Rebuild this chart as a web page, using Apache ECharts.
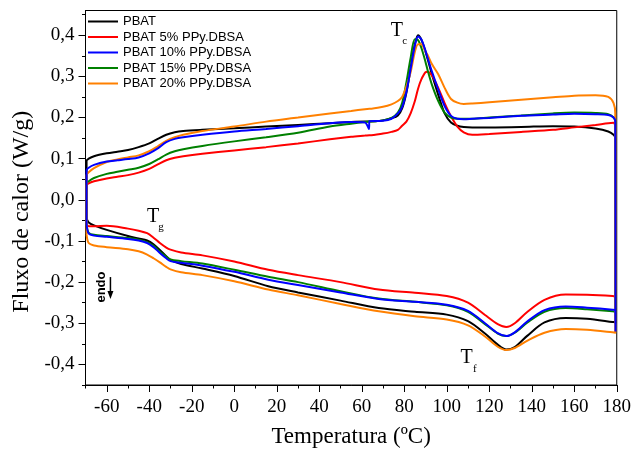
<!DOCTYPE html>
<html>
<head>
<meta charset="utf-8">
<script src="https://cdn.jsdelivr.net/npm/echarts@6/dist/echarts.min.js"></script>
<style>
html, body { margin: 0; padding: 0; background: #fff; }
#chart { width: 634px; height: 452px; }
</style>
</head>
<body>
<div id="chart"></div>
<script>
// DSC thermograms of PBAT and PBAT/PPy.DBSA blends (heat flow, W/g, vs temperature, °C)
const seriesNames = ['PBAT', 'PBAT 5% PPy.DBSA', 'PBAT 10% PPy.DBSA', 'PBAT 15% PPy.DBSA', 'PBAT 20% PPy.DBSA'];
const seriesColors = ['#000000', '#ff0000', '#0000ff', '#008000', '#ff8000'];

// heating run (lower branch, endo down)
const heatT = [-69.5, -68.5, -66, -60, -50, -45, -41, -38, -35, -32, -30, -25, -15, 0, 16, 30, 50, 68, 85, 100, 110, 118, 124, 128, 132, 138, 146, 156, 166, 178, 179.3, 179.4];
const heatPBAT   = [-0.045, -0.055, -0.062, -0.073, -0.088, -0.094, -0.099, -0.108, -0.122, -0.137, -0.146, -0.156, -0.167, -0.185, -0.210, -0.225, -0.245, -0.263, -0.272, -0.279, -0.295, -0.325, -0.352, -0.364, -0.358, -0.330, -0.298, -0.287, -0.289, -0.297, -0.298, -0.300];
const heatPPy5   = [-0.060, -0.064, -0.064, -0.063, -0.070, -0.075, -0.081, -0.092, -0.105, -0.116, -0.121, -0.128, -0.135, -0.150, -0.170, -0.183, -0.200, -0.218, -0.226, -0.234, -0.250, -0.280, -0.302, -0.309, -0.300, -0.272, -0.243, -0.230, -0.231, -0.234, -0.235, -0.236];
const heatPPy10  = [-0.060, -0.082, -0.087, -0.090, -0.095, -0.099, -0.105, -0.115, -0.129, -0.142, -0.149, -0.153, -0.160, -0.175, -0.194, -0.207, -0.225, -0.241, -0.248, -0.255, -0.270, -0.300, -0.324, -0.331, -0.322, -0.295, -0.268, -0.259, -0.262, -0.267, -0.268, -0.320];
const heatPPy15  = [-0.060, -0.080, -0.085, -0.088, -0.093, -0.097, -0.103, -0.112, -0.126, -0.138, -0.145, -0.149, -0.155, -0.170, -0.187, -0.200, -0.222, -0.240, -0.248, -0.256, -0.272, -0.302, -0.325, -0.331, -0.323, -0.298, -0.272, -0.263, -0.266, -0.271, -0.272, -0.273];
const heatPPy20  = [-0.085, -0.105, -0.111, -0.115, -0.120, -0.125, -0.133, -0.142, -0.152, -0.163, -0.169, -0.176, -0.183, -0.198, -0.218, -0.232, -0.253, -0.271, -0.283, -0.291, -0.305, -0.332, -0.357, -0.365, -0.360, -0.342, -0.323, -0.314, -0.316, -0.322, -0.323, -0.324];

// cooling run (upper branch, crystallization exotherm)
const coolT = [-69.5, -68.5, -66, -60, -55, -50, -45, -40, -36, -32, -28, -24, -15, 0, 15, 30, 45, 55, 61.5, 63.4, 63.6, 70, 74, 77, 79, 81, 83, 85, 86.5, 88, 90, 91, 93, 96, 99, 102, 105, 108, 112, 120, 135, 150, 160, 170, 176, 178.5, 179.3];
const coolPBAT  = [0.095, 0.100, 0.106, 0.113, 0.117, 0.121, 0.128, 0.137, 0.148, 0.158, 0.164, 0.167, 0.170, 0.174, 0.178, 0.182, 0.186, 0.189, 0.190, 0.190, 0.190, 0.193, 0.198, 0.205, 0.222, 0.260, 0.320, 0.378, 0.400, 0.390, 0.360, 0.342, 0.305, 0.255, 0.210, 0.188, 0.180, 0.177, 0.176, 0.176, 0.177, 0.179, 0.178, 0.173, 0.166, 0.158, 0.150];
const coolPPy5  = [0.035, 0.040, 0.045, 0.052, 0.056, 0.060, 0.066, 0.075, 0.086, 0.096, 0.102, 0.106, 0.112, 0.120, 0.128, 0.137, 0.147, 0.153, 0.156, 0.157, 0.157, 0.161, 0.165, 0.170, 0.180, 0.190, 0.210, 0.240, 0.270, 0.292, 0.310, 0.311, 0.302, 0.272, 0.235, 0.203, 0.178, 0.164, 0.158, 0.160, 0.165, 0.170, 0.176, 0.182, 0.186, 0.187, 0.180];
const coolPPy10 = [0.072, 0.078, 0.085, 0.093, 0.096, 0.099, 0.103, 0.113, 0.125, 0.140, 0.148, 0.152, 0.158, 0.166, 0.172, 0.179, 0.186, 0.189, 0.188, 0.172, 0.191, 0.192, 0.197, 0.210, 0.225, 0.262, 0.318, 0.375, 0.397, 0.390, 0.362, 0.345, 0.312, 0.268, 0.228, 0.204, 0.197, 0.196, 0.197, 0.199, 0.204, 0.207, 0.209, 0.208, 0.206, 0.200, 0.190];
const coolPPy15 = [0.040, 0.045, 0.053, 0.063, 0.068, 0.073, 0.078, 0.087, 0.098, 0.110, 0.118, 0.123, 0.131, 0.142, 0.152, 0.163, 0.178, 0.185, 0.189, 0.190, 0.190, 0.193, 0.199, 0.212, 0.235, 0.285, 0.345, 0.390, 0.388, 0.370, 0.335, 0.315, 0.280, 0.240, 0.212, 0.200, 0.197, 0.197, 0.197, 0.200, 0.205, 0.210, 0.212, 0.211, 0.208, 0.200, 0.190];
const coolPPy20 = [0.060, 0.067, 0.077, 0.092, 0.098, 0.103, 0.108, 0.118, 0.130, 0.143, 0.152, 0.158, 0.167, 0.178, 0.190, 0.200, 0.210, 0.216, 0.220, 0.221, 0.221, 0.226, 0.232, 0.240, 0.250, 0.275, 0.310, 0.360, 0.378, 0.378, 0.360, 0.352, 0.330, 0.305, 0.272, 0.245, 0.236, 0.233, 0.234, 0.237, 0.243, 0.249, 0.253, 0.254, 0.250, 0.235, 0.210];

// axis ticks
const xLabelTicks = [-60, -40, -20, 0, 20, 40, 60, 80, 100, 120, 140, 160, 180];
const xMinorTicks = [-70, -50, -30, -10, 10, 30, 50, 70, 90, 110, 130, 150, 170];
const yLabelTicks = [-0.4, -0.3, -0.2, -0.1, 0, 0.1, 0.2, 0.3, 0.4];
const yMinorTicks = [-0.45, -0.35, -0.25, -0.15, -0.05, 0.05, 0.15, 0.25, 0.35, 0.45];

const heatRuns = [heatPBAT, heatPPy5, heatPPy10, heatPPy15, heatPPy20];
const coolRuns = [coolPBAT, coolPPy5, coolPPy10, coolPPy15, coolPPy20];

// one closed loop per sample: heating left→right, then cooling right→left
function loopData(heat, cool) {
  const h = heatT.map((t, i) => [t, heat[i]]);
  const c = coolT.map((t, i) => [t, cool[i]]).reverse();
  return h.concat(c, [h[0]]);
}

const serif = 'Liberation Serif';
const sans = 'Liberation Sans';

const seriesList = seriesNames.map((name, i) => ({
  name: name,
  type: 'line',
  data: loopData(heatRuns[i], coolRuns[i]),
  showSymbol: false,
  symbol: 'none',
  smooth: 0.3,
  lineStyle: { color: seriesColors[i], width: 2 },
  itemStyle: { color: seriesColors[i] },
  emphasis: { disabled: true },
  silent: true,
  z: [2, 3, 6, 4, 5][i]
}));

const chart = echarts.init(document.getElementById('chart'), null, { renderer: 'canvas' });

const commonX = { type: 'value', min: -70, max: 180, gridIndex: 0, position: 'bottom' };
const commonY = { type: 'value', min: -0.45, max: 0.46, gridIndex: 0, position: 'left' };

chart.setOption({
  animation: false,
  backgroundColor: '#ffffff',
  grid: {
    left: 85.5, right: 16.5, top: 10.5, bottom: 67,
    show: true, borderColor: '#000', borderWidth: 1, backgroundColor: 'transparent'
  },
  legend: {
    orient: 'vertical',
    left: 88, top: 15, padding: 0,
    itemWidth: 30, itemHeight: 2, itemGap: 2.5,
    icon: 'rect',
    data: seriesNames,
    textStyle: { fontFamily: sans, fontSize: 13, color: '#000', lineHeight: 13 },
    selectedMode: false
  },
  xAxis: [
    Object.assign({}, commonX, {
      axisLine: { show: true, onZero: false, lineStyle: { color: '#000', width: 1 } },
      axisTick: { show: true, length: 7, lineStyle: { color: '#000' }, customValues: xLabelTicks },
      axisLabel: { show: true, customValues: xLabelTicks, margin: 13, fontFamily: serif, fontSize: 19, color: '#000' },
      splitLine: { show: false }
    }),
    Object.assign({}, commonX, {
      axisLine: { show: false, onZero: false },
      axisTick: { show: true, length: 3.5, lineStyle: { color: '#000' }, customValues: xMinorTicks },
      axisLabel: { show: false },
      splitLine: { show: false }
    })
  ],
  yAxis: [
    Object.assign({}, commonY, {
      axisLine: { show: true, onZero: false, lineStyle: { color: '#000', width: 1 } },
      axisTick: { show: true, length: 7, lineStyle: { color: '#000' }, customValues: yLabelTicks },
      axisLabel: {
        show: true, customValues: yLabelTicks, margin: 11,
        fontFamily: serif, fontSize: 19, color: '#000',
        formatter: v => v.toFixed(1).replace('.', ',')
      },
      splitLine: { show: false }
    }),
    Object.assign({}, commonY, {
      axisLine: { show: false, onZero: false },
      axisTick: { show: true, length: 3.5, lineStyle: { color: '#000' }, customValues: yMinorTicks },
      axisLabel: { show: false },
      splitLine: { show: false }
    })
  ],
  series: seriesList
});

// peak annotations and titles placed from data coordinates
function px(t, v) { return chart.convertToPixel({ gridIndex: 0 }, [t, v]); }
const tc = px(76.5, 0.412);
const tg = px(-38.2, -0.04);
const tf = px(109.4, -0.384);
const mainT = { fontFamily: serif, fontSize: 20, fill: '#000', textAlign: 'center', textVerticalAlign: 'middle' };
const subT = { fontFamily: serif, fontSize: 11, fill: '#000', textAlign: 'center', textVerticalAlign: 'middle' };
function label(p, sub) {
  return [
    { type: 'text', x: p[0], y: p[1], style: Object.assign({ text: 'T' }, mainT), silent: true },
    { type: 'text', x: p[0] + 8, y: p[1] + 11, style: Object.assign({ text: sub }, subT), silent: true }
  ];
}
const gridRect = chart.getModel().getComponent('grid').coordinateSystem.getRect();
const endoPos = px(-62.5, -0.212);
chart.setOption({
  graphic: [].concat(
    label(tc, 'c'), label(tg, 'g'), label(tf, 'f'),
    [
      {
        type: 'text', x: endoPos[0], y: endoPos[1], rotation: Math.PI / 2,
        style: { text: 'endo', fontFamily: sans, fontWeight: 'bold', fontSize: 13, fill: '#000', textAlign: 'center', textVerticalAlign: 'middle' },
        silent: true
      },
      {
        type: 'line', shape: { x1: endoPos[0] + 9, y1: endoPos[1] - 10, x2: endoPos[0] + 9, y2: endoPos[1] + 8 },
        style: { stroke: '#000', lineWidth: 1.5 }, silent: true
      },
      {
        type: 'polygon',
        shape: { points: [[endoPos[0] + 6, endoPos[1] + 4], [endoPos[0] + 12, endoPos[1] + 4], [endoPos[0] + 9, endoPos[1] + 12]] },
        style: { fill: '#000' }, silent: true
      },
      {
        type: 'text', x: gridRect.x + gridRect.width / 2, y: 437,
        style: { text: 'Temperatura (ºC)', fontFamily: serif, fontSize: 23, fill: '#000', textAlign: 'center', textVerticalAlign: 'middle' },
        silent: true
      },
      {
        type: 'text', x: 22, y: gridRect.y + gridRect.height / 2 + 14, rotation: Math.PI / 2,
        style: { text: 'Fluxo de calor (W/g)', fontFamily: serif, fontSize: 24, fill: '#000', textAlign: 'center', textVerticalAlign: 'middle' },
        silent: true
      }
    ]
  )
});
</script>
</body>
</html>
